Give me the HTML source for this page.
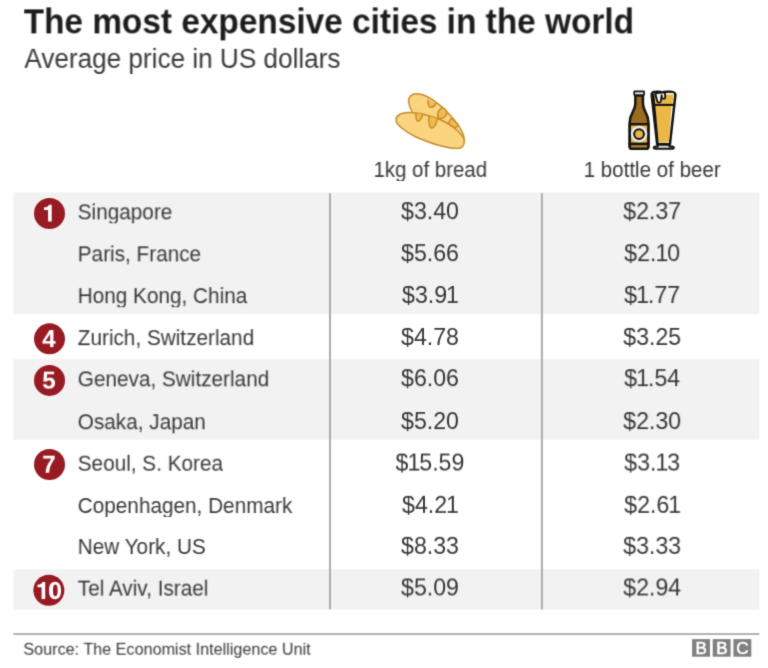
<!DOCTYPE html>
<html><head><meta charset="utf-8"><title>The most expensive cities in the world</title>
<style>
html,body{margin:0;padding:0;background:#fff;}
body{width:768px;height:668px;position:relative;overflow:hidden;font-family:"Liberation Sans",sans-serif;color:#383838;}
.t{position:absolute;white-space:nowrap;line-height:1;will-change:transform;transform-origin:0 0;}
.c{text-align:center;width:200px;}
.num{color:#fff;font-weight:bold;}
svg{position:absolute;left:0;top:0;}
#wrap{position:absolute;left:-8px;top:-8px;width:784px;height:684px;background:#fff;filter:url(#soft);}
#page{position:absolute;left:8px;top:8px;width:768px;height:668px;}
</style></head><body>
<svg width="0" height="0"><filter id="soft" x="0" y="0" width="100%" height="100%" color-interpolation-filters="sRGB"><feConvolveMatrix order="3" kernelMatrix="0.0192 0.1001 0.0192 0.1001 0.5228 0.1001 0.0192 0.1001 0.0192" edgeMode="duplicate" preserveAlpha="true"/></filter></svg>
<div id="wrap"><div id="page">

<svg width="768" height="668" viewBox="0 0 768 668">
<rect x="13.5" y="192.5" width="745.8" height="121.5" fill="#f2f2f2"/>
<rect x="13.5" y="359.2" width="745.8" height="80.5" fill="#f2f2f2"/>
<rect x="13.5" y="569.4" width="745.8" height="40.3" fill="#f2f2f2"/>
<rect x="329.0" y="193.1" width="2.0" height="416.4" fill="#adadad"/>
<rect x="540.9" y="193.1" width="2.0" height="416.4" fill="#adadad"/>
<rect x="13.5" y="633.1" width="745.8" height="1.9" fill="#b0b0b0"/>
<circle cx="49.5" cy="213.45" r="15.5" fill="#981b24"/>
<path transform="translate(43.0,221.5) scale(0.02124,-0.0236)" d="M240 0 V490 H45 V596 Q235 600 285 712 H410 V0 Z" fill="#fff"/>
<circle cx="49.5" cy="338.85" r="15.5" fill="#981b24"/>
<circle cx="49.5" cy="380.40" r="15.5" fill="#981b24"/>
<circle cx="49.5" cy="464.45" r="15.5" fill="#981b24"/>
<circle cx="48.85" cy="590.20" r="15.5" fill="#981b24"/>
<path transform="translate(36.5,598.9) scale(0.02118,-0.0238)" d="M240 0 V490 H45 V596 Q235 600 285 712 H410 V0 Z" fill="#fff"/>
<path transform="translate(48.15,598.9) scale(0.02475,-0.0238)" d="M278 722 C100 722 35 560 35 355 C35 150 100 -12 278 -12 C456 -12 521 150 521 355 C521 560 456 722 278 722 Z M290 600 C367 600 384 480 384 355 C384 230 367 110 290 110 C213 110 196 230 196 355 C196 480 213 600 290 600 Z" fill="#fff" fill-rule="evenodd"/>
</svg>
<div class="t" style="left:23px;top:5px;font-size:33.4px;font-weight:bold;color:#1c1c1c;transform-origin:0 28px;transform:translate(0.60px,0.30px) rotate(0.001deg) scale(1,1.03);">The most expensive cities in the world</div>
<div class="t" style="left:24px;top:45px;font-size:26.13px;transform-origin:0 22px;transform:translate(0.40px,0.60px) rotate(0.001deg) scale(1,1.03);">Average price in US dollars</div>
<div class="t c" style="left:330px;top:159px;font-size:20.45px;transform-origin:0 17px;transform:translate(0.30px,0.70px) rotate(0.001deg) scale(1,1.04);">1kg of bread</div>
<div class="t c" style="left:552px;top:159px;font-size:20.55px;transform-origin:0 17px;transform:translate(0.20px,0.80px) rotate(0.001deg) scale(1,1.04);">1 bottle of beer</div>
<div class="t" style="left:77px;top:202px;font-size:20.75px;transform-origin:0 17px;transform:translate(0.70px,0.10px) rotate(0.001deg) scale(1,1.04);">Singapore</div>
<div class="t c" style="left:330px;top:200px;font-size:23.2px;transform-origin:0 19px;transform:translate(0.00px,0.00px) rotate(0.001deg) scale(1,1.04);">$3.40</div>
<div class="t c" style="left:552px;top:200px;font-size:23.2px;transform-origin:0 19px;transform:translate(0.20px,0.00px) rotate(0.001deg) scale(1,1.04);">$2.37</div>
<div class="t" style="left:77px;top:244px;font-size:20.75px;transform-origin:0 17px;transform:translate(0.70px,0.10px) rotate(0.001deg) scale(1,1.04);">Paris, France</div>
<div class="t c" style="left:330px;top:242px;font-size:23.2px;transform-origin:0 19px;transform:translate(0.00px,0.00px) rotate(0.001deg) scale(1,1.04);">$5.66</div>
<div class="t c" style="left:552px;top:242px;font-size:23.2px;transform-origin:0 19px;transform:translate(0.20px,0.00px) rotate(0.001deg) scale(1,1.04);">$2.<span style="margin:0 -1.1px">1</span>0</div>
<div class="t" style="left:77px;top:285px;font-size:20.75px;transform-origin:0 17px;transform:translate(0.70px,0.90px) rotate(0.001deg) scale(1,1.04);">Hong Kong, China</div>
<div class="t c" style="left:330px;top:283px;font-size:23.2px;transform-origin:0 19px;transform:translate(0.00px,0.80px) rotate(0.001deg) scale(1,1.04);">$3.9<span style="margin:0 -1.1px">1</span></div>
<div class="t c" style="left:552px;top:283px;font-size:23.2px;transform-origin:0 19px;transform:translate(0.20px,0.80px) rotate(0.001deg) scale(1,1.04);">$<span style="margin:0 -1.1px">1</span>.77</div>
<div class="t c num" style="left:-52px;top:327px;font-size:24.3px;font-weight:bold;transform-origin:0 20px;transform:translate(0.95px,0.10px) rotate(0.001deg) scale(1,1.0);">4</div>
<div class="t" style="left:77px;top:327px;font-size:20.75px;transform-origin:0 17px;transform:translate(0.70px,0.90px) rotate(0.001deg) scale(1,1.04);">Zurich, Switzerland</div>
<div class="t c" style="left:330px;top:325px;font-size:23.2px;transform-origin:0 19px;transform:translate(0.00px,0.80px) rotate(0.001deg) scale(1,1.04);">$4.78</div>
<div class="t c" style="left:552px;top:325px;font-size:23.2px;transform-origin:0 19px;transform:translate(0.20px,0.80px) rotate(0.001deg) scale(1,1.04);">$3.25</div>
<div class="t c num" style="left:-52px;top:368px;font-size:24.3px;font-weight:bold;transform-origin:0 20px;transform:translate(0.95px,0.65px) rotate(0.001deg) scale(1,1.0);">5</div>
<div class="t" style="left:77px;top:369px;font-size:20.75px;transform-origin:0 17px;transform:translate(0.70px,0.10px) rotate(0.001deg) scale(1,1.04);">Geneva, Switzerland</div>
<div class="t c" style="left:330px;top:367px;font-size:23.2px;transform-origin:0 19px;transform:translate(0.00px,0.00px) rotate(0.001deg) scale(1,1.04);">$6.06</div>
<div class="t c" style="left:552px;top:367px;font-size:23.2px;transform-origin:0 19px;transform:translate(0.20px,0.00px) rotate(0.001deg) scale(1,1.04);">$<span style="margin:0 -1.1px">1</span>.54</div>
<div class="t" style="left:77px;top:412px;font-size:20.75px;transform-origin:0 17px;transform:translate(0.70px,0.00px) rotate(0.001deg) scale(1,1.04);">Osaka, Japan</div>
<div class="t c" style="left:330px;top:409px;font-size:23.2px;transform-origin:0 19px;transform:translate(0.00px,0.90px) rotate(0.001deg) scale(1,1.04);">$5.20</div>
<div class="t c" style="left:552px;top:409px;font-size:23.2px;transform-origin:0 19px;transform:translate(0.20px,0.90px) rotate(0.001deg) scale(1,1.04);">$2.30</div>
<div class="t c num" style="left:-52px;top:452px;font-size:24.3px;font-weight:bold;transform-origin:0 20px;transform:translate(0.95px,0.70px) rotate(0.001deg) scale(1,1.0);">7</div>
<div class="t" style="left:77px;top:453px;font-size:20.75px;transform-origin:0 17px;transform:translate(0.70px,0.50px) rotate(0.001deg) scale(1,1.04);">Seoul, S. Korea</div>
<div class="t c" style="left:330px;top:451px;font-size:23.2px;transform-origin:0 19px;transform:translate(0.00px,0.40px) rotate(0.001deg) scale(1,1.04);">$<span style="margin:0 -1.1px">1</span>5.59</div>
<div class="t c" style="left:552px;top:451px;font-size:23.2px;transform-origin:0 19px;transform:translate(0.20px,0.40px) rotate(0.001deg) scale(1,1.04);">$3.<span style="margin:0 -1.1px">1</span>3</div>
<div class="t" style="left:77px;top:495px;font-size:20.75px;transform-origin:0 17px;transform:translate(0.70px,0.80px) rotate(0.001deg) scale(1,1.04);">Copenhagen, Denmark</div>
<div class="t c" style="left:330px;top:493px;font-size:23.2px;transform-origin:0 19px;transform:translate(0.00px,0.70px) rotate(0.001deg) scale(1,1.04);">$4.2<span style="margin:0 -1.1px">1</span></div>
<div class="t c" style="left:552px;top:493px;font-size:23.2px;transform-origin:0 19px;transform:translate(0.20px,0.70px) rotate(0.001deg) scale(1,1.04);">$2.6<span style="margin:0 -1.1px">1</span></div>
<div class="t" style="left:77px;top:536px;font-size:20.75px;transform-origin:0 17px;transform:translate(0.70px,0.80px) rotate(0.001deg) scale(1,1.04);">New York, US</div>
<div class="t c" style="left:330px;top:534px;font-size:23.2px;transform-origin:0 19px;transform:translate(0.00px,0.70px) rotate(0.001deg) scale(1,1.04);">$8.33</div>
<div class="t c" style="left:552px;top:534px;font-size:23.2px;transform-origin:0 19px;transform:translate(0.20px,0.70px) rotate(0.001deg) scale(1,1.04);">$3.33</div>
<div class="t" style="left:77px;top:578px;font-size:20.75px;transform-origin:0 17px;transform:translate(0.70px,0.40px) rotate(0.001deg) scale(1,1.04);">Tel Aviv, Israel</div>
<div class="t c" style="left:330px;top:576px;font-size:23.2px;transform-origin:0 19px;transform:translate(0.00px,0.30px) rotate(0.001deg) scale(1,1.04);">$5.09</div>
<div class="t c" style="left:552px;top:576px;font-size:23.2px;transform-origin:0 19px;transform:translate(0.20px,0.30px) rotate(0.001deg) scale(1,1.04);">$2.94</div>
<div class="t" style="left:23px;top:640px;font-size:16.18px;transform-origin:0 14px;transform:translate(0.40px,0.35px) rotate(0.001deg) scale(1,1.04);">Source: The Economist Intelligence Unit</div>
<svg width="768" height="668" viewBox="0 0 768 668">
<rect x="692.1" y="639.1" width="17.9" height="17.6" fill="#818181"/>
<text x="701.25" y="654.1" text-anchor="middle" font-family="Liberation Sans, sans-serif" font-size="17" fill="#fff" stroke="#fff" stroke-width="0.55">B</text>
<rect x="712.7" y="639.1" width="17.9" height="17.6" fill="#818181"/>
<text x="721.85" y="654.1" text-anchor="middle" font-family="Liberation Sans, sans-serif" font-size="17" fill="#fff" stroke="#fff" stroke-width="0.55">B</text>
<rect x="733.4" y="639.1" width="17.9" height="17.6" fill="#818181"/>
<text x="742.45" y="654.1" text-anchor="middle" font-family="Liberation Sans, sans-serif" font-size="17" fill="#fff" stroke="#fff" stroke-width="0.55">C</text>
</svg>
<svg width="768" height="668" viewBox="0 0 768 668">
<!-- bread -->
<g stroke="#c58c2b" stroke-width="1.45" stroke-linejoin="round" stroke-linecap="round">
<path d="M408.6 102 C408 97 411.5 93.6 417 93.7 C427 94 441 104.5 450 115 C458 124 464.5 134 464.2 140 L430 125 L412.4 112.5 C410 108 409 105 408.6 102 Z" fill="#fbd47f"/>
<path d="M428 100 C428 104 428.6 107.3 430.3 107.3 C432.5 107.3 435 105.5 435.8 103.6" fill="#f2bb4e"/>
<path d="M442.1 107.3 C438 110 436.5 115 438.5 118 C441 119.5 445.5 117.5 446.8 114 C447 111 445 108.5 442.1 107.3 Z" fill="#f2bb4e"/>
<path d="M451.5 118.2 C449.5 120 448.5 122.5 449 124.5 L454.6 128.1 C456.5 127 458 125.8 458.2 124.5 Z" fill="#f2bb4e"/>
<path d="M396 119.5 C396.5 115 402 112.3 409 112.5 C420 112.8 436 116.5 448 123.5 C457 129 464 136.5 464.3 141 C464.5 145.5 462 148.5 457 148.4 C447 148.3 430 143 416 137 C405 132 395.5 124 396 119.5 Z" fill="#fbd47f"/>
<path d="M416 113.3 C415.5 117 416.3 121.3 418.1 121.3 C420 121.3 422 118 422.5 114.2" fill="#f2bb4e"/>
<path d="M429 116.2 C428.3 121 429.5 128.1 431.7 128.1 C434 128.1 436.8 123 437.4 118.7" fill="#f2bb4e"/>
</g>
<!-- bottle -->
<g stroke="#141414" stroke-width="2.5" stroke-linejoin="round">
<path d="M635.35 95.4 V103.6 C635.35 111.5 629.75 113 629.75 122 V146.4 Q629.75 148.85 632.2 148.85 H645.9 Q648.35 148.85 648.35 146.4 V122 C648.35 113 642.95 111.5 642.95 103.6 V95.4 Z" fill="#9a6c1d"/>
<rect x="629.75" y="124.3" width="18.6" height="19.6" fill="#eab541"/>
<path d="M629.75 143.9 V146.4 Q629.75 148.85 632.2 148.85 H645.9 Q648.35 148.85 648.35 146.4 V143.9 Z" fill="#ba872a"/>
<rect x="634.2" y="91.4" width="9.9" height="3.7" rx="0.5" fill="#e4e4e4" stroke-width="1.7"/>
<circle cx="639.05" cy="134.1" r="8.25" fill="#ebebeb" stroke="none"/>
<circle cx="639.05" cy="134.1" r="4.9" fill="#eab541" stroke-width="2.0"/>
</g>
<!-- glass -->
<g stroke="#141414" stroke-width="2.5" stroke-linejoin="round">
<path d="M651.75 95.5 C651.3 92.3 653 91.8 656 91.8 C659 91.6 661 91.7 662.5 92.7 C664 91.5 667 91.7 669 91.8 C672 91.6 675.8 92.3 675.35 95.5 L669.9 144.3 H657.2 Z" fill="#ffffff"/>
<path d="M653.6 94.6 H673.5 L672.4 104.8 H654.6 Z" fill="#ecb744" stroke="none"/>
<path d="M654.2 105.9 H671.5 L669.1 139.6 Q668.9 142.7 666.4 142.7 H660.8 Q658.5 142.7 658.2 139.6 Z" fill="#ecb744" stroke="none"/>
<path d="M652.3 94 L654.3 94 L658.7 143.4 L657.2 143.4 Z" fill="#141414" stroke="none"/>
<path d="M652.8 104.9 H674.3" fill="none" stroke-width="2.1"/>
<path d="M655.3 93.6 C655.3 92.7 661 92.5 665 92.6 L665.2 97.3 Q665 98.9 663.5 98.9 Q662 98.9 661.9 97.3 L661.6 95.3 L660.9 101 Q660.7 102.6 659.1 102.6 Q657.5 102.6 657.2 101 Z" fill="#f6f6f6" stroke-width="1.9"/>
<path d="M666.5 93.4 H673.6" fill="none" stroke="#f6f6f6" stroke-width="1.0"/>
<path d="M658.3 144.6 L657.5 146.5 H655.2 Q653.75 146.6 653.75 147.8 Q653.75 148.8 655.2 148.8 H672.4 Q673.85 148.8 673.85 147.8 Q673.85 146.6 672.4 146.5 H669.7 L668.8 144.6 Z" fill="#dcdcdc" stroke-width="2.1"/>
</g>
</svg>

</div></div></body></html>
